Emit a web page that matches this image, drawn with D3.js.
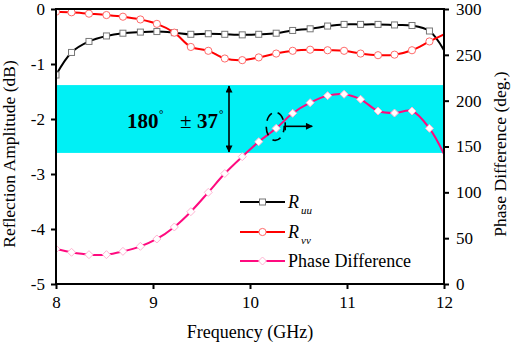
<!DOCTYPE html>
<html>
<head>
<meta charset="utf-8">
<script src="https://cdn.jsdelivr.net/npm/d3@7"></script>
<style>
  body { margin: 0; background: #fff; }
  text { font-family: "Liberation Serif", "Times New Roman", serif; }
</style>
</head>
<body>
<div id="chart"></div>
<script>
// Data
const freqs = [8.0, 8.16, 8.34, 8.52, 8.69, 8.87, 9.04, 9.22, 9.39, 9.57, 9.74, 9.92,
               10.09, 10.27, 10.44, 10.62, 10.80, 10.97, 11.14, 11.32, 11.49, 11.67, 11.85, 12.0];
const ruu = [-1.20, -0.79, -0.59, -0.49, -0.44, -0.42, -0.41, -0.43, -0.46, -0.45, -0.46, -0.47,
             -0.46, -0.44, -0.39, -0.36, -0.31, -0.28, -0.28, -0.28, -0.29, -0.30, -0.40, -0.75];
const rvv = [-0.05, -0.06, -0.085, -0.11, -0.14, -0.19, -0.27, -0.43, -0.69, -0.76, -0.90, -0.93,
             -0.88, -0.81, -0.76, -0.74, -0.75, -0.76, -0.81, -0.84, -0.83, -0.75, -0.59, -0.46];
const phase = [38.2, 34.6, 32.0, 32.0, 35.6, 41.1, 49.1, 62.2, 78.9, 100.0, 120.5, 138.9,
               155.2, 169.8, 186.2, 197.8, 205.5, 207.0, 201.5, 188.7, 186.5, 188.7, 169.8, 141.8];
const band = [143, 217];
const xTicks = [8, 9, 10, 11, 12];
const yLeftTicks = [0, -1, -2, -3, -4, -5];
const yRightTicks = [0, 50, 100, 150, 200, 250, 300];

const W = 512, H = 344;
const margin = { top: 9, right: 68, bottom: 60, left: 56 };
const width = W - margin.left - margin.right;
const height = H - margin.top - margin.bottom;

const svg = d3.select("#chart").append("svg")
    .attr("width", W).attr("height", H);

const defs = svg.append("defs");
defs.append("marker").attr("id", "ah")
    .attr("viewBox", "0 0 10 10").attr("refX", 9).attr("refY", 5)
    .attr("markerWidth", 9).attr("markerHeight", 7).attr("markerUnits", "userSpaceOnUse")
    .attr("orient", "auto-start-reverse")
    .append("path").attr("d", "M0,0L10,5L0,10Z").attr("fill", "#000");
defs.append("clipPath").attr("id", "plotclip")
    .append("rect").attr("width", width).attr("height", height);

const g = svg.append("g").attr("transform", `translate(${margin.left},${margin.top})`);

// Scales
const x = d3.scaleLinear().domain([8, 12]).range([0, width]);
const yL = d3.scaleLinear().domain([-5, 0]).range([height, 0]);
const yR = d3.scaleLinear().domain([0, 300]).range([height, 0]);

// Cyan band
g.append("rect")
    .attr("x", 0).attr("width", width)
    .attr("y", yR(band[1])).attr("height", yR(band[0]) - yR(band[1]))
    .attr("fill", "#00f0f5");

// Series
const series = [
    { vals: ruu, y: yL, color: "#000", mstroke: "#777", shape: "square" },
    { vals: rvv, y: yL, color: "#ff0000", mstroke: "#ff6a6a", shape: "circle" },
    { vals: phase, y: yR, color: "#ff0a7f", mstroke: "#ffb3d2", shape: "diamond" }
];

const plot = g.append("g").attr("clip-path", "url(#plotclip)");

function drawMarker(sel, shape, stroke) {
    let m;
    if (shape === "square") {
        m = sel.append("rect").attr("x", -3).attr("y", -3).attr("width", 6).attr("height", 6);
    } else if (shape === "circle") {
        m = sel.append("circle").attr("r", 3.6);
    } else {
        m = sel.append("path").attr("d", "M0,-4L4,0L0,4L-4,0Z");
    }
    m.attr("fill", "#fff").attr("stroke", stroke).attr("stroke-width", 1);
}

series.forEach(s => {
    const pts = freqs.map((f, i) => [f, s.vals[i]]);
    const line = d3.line().x(d => x(d[0])).y(d => s.y(d[1])).curve(d3.curveCatmullRom);
    plot.append("path").datum(pts)
        .attr("d", line).attr("fill", "none")
        .attr("stroke", s.color).attr("stroke-width", 2);
    plot.selectAll(null).data(pts.slice(0, pts.length - 1)).join("g")
        .attr("transform", d => `translate(${x(d[0])},${s.y(d[1])})`)
        .each(function () { drawMarker(d3.select(this), s.shape, s.mstroke); });
});

// Axes
const font = "17px";
const axB = g.append("g").attr("transform", `translate(0,${height})`)
    .call(d3.axisBottom(x).tickValues(xTicks).tickSize(5).tickPadding(7).tickFormat(d3.format("d")));
const axL = g.append("g")
    .call(d3.axisLeft(yL).tickValues(yLeftTicks).tickSize(5).tickPadding(6).tickFormat(d3.format("d")));
const axR = g.append("g").attr("transform", `translate(${width},0)`)
    .call(d3.axisRight(yR).tickValues(yRightTicks).tickSize(5).tickPadding(7).tickFormat(d3.format("d")));
[axB, axL, axR].forEach(a => {
    a.select(".domain").attr("stroke-width", 2).attr("d", null);
    a.selectAll(".tick line").attr("stroke-width", 2);
    a.selectAll(".tick text").style("font-size", font).attr("fill", "#000")
        .style("font-family", '"Liberation Serif", serif');
});
axL.selectAll(".tick text").text(d => d === 0 ? "0" : "-" + Math.abs(d));
// Frame
g.append("rect").attr("width", width).attr("height", height)
    .attr("fill", "none").attr("stroke", "#000").attr("stroke-width", 2);

// Axis titles
svg.append("text").attr("x", margin.left + width / 2).attr("y", 338)
    .attr("text-anchor", "middle").style("font-size", "18px").text("Frequency (GHz)");
svg.append("text").attr("transform", `translate(15,154) rotate(-90)`)
    .attr("text-anchor", "middle").style("font-size", "17.5px").text("Reflection Amplitude (dB)");
svg.append("text").attr("transform", `translate(506,154) rotate(-90)`)
    .attr("text-anchor", "middle").style("font-size", "17.5px").text("Phase Difference (deg.)");

// Annotation
const ann = svg.append("g").style("font-size", "21px").style("font-weight", "bold");
ann.append("text").attr("x", 127).attr("y", 127.5).text("180");
ann.append("text").attr("x", 159).attr("y", 118).style("font-size", "11px").text("°");
ann.append("text").attr("x", 180).attr("y", 127.5).style("font-weight", "normal").text("±");
ann.append("text").attr("x", 197).attr("y", 127.5).text("37");
ann.append("text").attr("x", 219).attr("y", 118).style("font-size", "11px").text("°");

const yTop = margin.top + yR(band[1]), yBot = margin.top + yR(band[0]);
svg.append("line").attr("x1", 229).attr("x2", 229).attr("y1", yTop + 1).attr("y2", yBot - 1)
    .attr("stroke", "#000").attr("stroke-width", 1.6)
    .attr("marker-start", "url(#ah)").attr("marker-end", "url(#ah)");

// Dashed ellipse around a phase point and arrow to right axis
const ex = margin.left + x(10.26), ey = margin.top + yR(172);
svg.append("ellipse").attr("cx", ex).attr("cy", ey).attr("rx", 9).attr("ry", 14)
    .attr("fill", "none").attr("stroke", "#000").attr("stroke-width", 1.6)
    .attr("stroke-dasharray", "9,6").attr("stroke-dashoffset", 3);
svg.append("line").attr("x1", ex + 10).attr("x2", ex + 37).attr("y1", ey).attr("y2", ey)
    .attr("stroke", "#000").attr("stroke-width", 1.6).attr("marker-end", "url(#ah)");
svg.append("line").attr("x1", ex + 10).attr("x2", ex + 10).attr("y1", ey - 4).attr("y2", ey + 4)
    .attr("stroke", "#000").attr("stroke-width", 1.6);

// Legend
const legend = [
    { color: "#000", mstroke: "#777", shape: "square", y: 202, main: "R", sub: "uu" },
    { color: "#ff0000", mstroke: "#ff6a6a", shape: "circle", y: 232, main: "R", sub: "vv" },
    { color: "#ff0a7f", mstroke: "#ffb3d2", shape: "diamond", y: 261, main: "Phase Difference", sub: null }
];
legend.forEach(l => {
    const lg = svg.append("g").attr("transform", `translate(240,${l.y})`);
    lg.append("line").attr("x1", 0).attr("x2", 45).attr("stroke", l.color).attr("stroke-width", 2);
    drawMarker(lg.append("g").attr("transform", "translate(22.5,0)"), l.shape, l.mstroke);
    const t = lg.append("text").attr("x", 48).attr("y", 6).style("font-size", "18px");
    if (l.sub) {
        t.append("tspan").style("font-style", "italic").text(l.main);
        t.append("tspan").attr("dy", 6).attr("dx", 2).style("font-style", "italic")
            .style("font-size", "11px").text(l.sub);
    } else {
        t.text(l.main);
    }
});
</script>
</body>
</html>
